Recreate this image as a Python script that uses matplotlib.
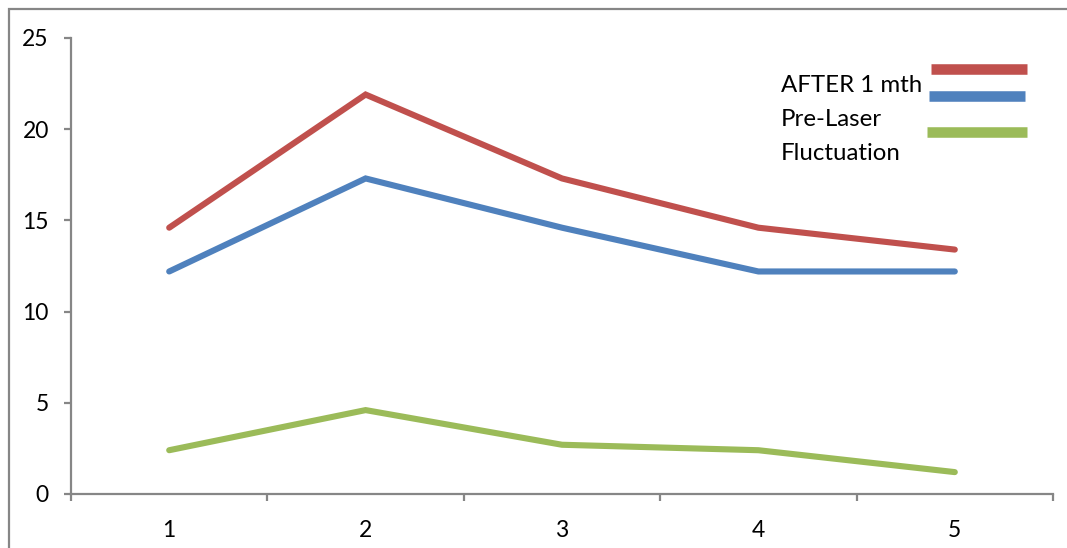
import matplotlib
matplotlib.use("Agg")
import matplotlib.pyplot as plt
from matplotlib.lines import Line2D
from matplotlib.patches import Rectangle

# Data
sessions = [1, 2, 3, 4, 5]
after_1_mth = [14.6, 21.9, 17.3, 14.6, 13.4]
pre_laser = [12.2, 17.3, 14.6, 12.2, 12.2]
fluctuation = [2.4, 4.6, 2.7, 2.4, 1.2]
series_labels = ["AFTER 1 mth", "Pre-Laser", "Fluctuation"]
y_ticks = [0, 5, 10, 15, 20, 25]

RED = "#C0504D"
BLUE = "#4F81BD"
GREEN = "#9BBB59"
GRAY = "#868686"

W, H = 1067, 548
plt.rcParams["font.family"] = ["Lato", "DejaVu Sans"]

fig = plt.figure(figsize=(W / 100, H / 100), dpi=100)

# Chart-area border (open at right and bottom edges of the canvas)
fig.patches.append(Rectangle((9 / W, -0.05), 1.1, 1 - 9 / H + 0.05,
                             transform=fig.transFigure, fill=False,
                             edgecolor=GRAY, linewidth=1.6))

ax = fig.add_axes([71 / W, 1 - 494 / H, (1053 - 71) / W, (494 - 38) / H])

lw = 4.4
ax.plot(sessions, after_1_mth, color=RED, lw=lw, solid_capstyle="round", solid_joinstyle="miter")
ax.plot(sessions, pre_laser, color=BLUE, lw=lw, solid_capstyle="round", solid_joinstyle="miter")
ax.plot(sessions, fluctuation, color=GREEN, lw=lw, solid_capstyle="round", solid_joinstyle="miter")

ax.set_xlim(0.5, 5.5)
ax.set_ylim(0, 25)
ax.set_yticks(y_ticks)
ax.set_xticks(sessions)
ax.set_xticks([s - 0.5 for s in sessions] + [sessions[-1] + 0.5], minor=True)

for side in ("top", "right"):
    ax.spines[side].set_visible(False)
for side in ("left", "bottom"):
    ax.spines[side].set_color(GRAY)
    ax.spines[side].set_linewidth(1.6)

ax.tick_params(axis="y", direction="out", length=5, width=1.6, color=GRAY,
               pad=11, labelsize=16.5, labelcolor="black")
ax.tick_params(axis="x", which="major", length=0, pad=19, labelsize=16.5,
               labelcolor="black")
ax.tick_params(axis="x", which="minor", direction="out", length=5, width=1.6,
               color=GRAY)

# Legend: labels on the left, colour swatches on the right
text_baselines = [92, 126, 160]
for label, yb in zip(series_labels, text_baselines):
    fig.text(781 / W, 1 - yb / H, label, fontsize=17.3, color="black",
             ha="left", va="baseline")

swatches = [(RED, 931, 1027, 69), (BLUE, 929, 1025, 96), (GREEN, 927, 1027, 132)]
for color, x0, x1, y in swatches:
    fig.lines.append(Line2D([x0 / W, x1 / W], [1 - y / H, 1 - y / H],
                            transform=fig.transFigure, color=color,
                            lw=7.6, solid_capstyle="butt"))

fig.savefig("out.png", dpi=100, facecolor="white")
